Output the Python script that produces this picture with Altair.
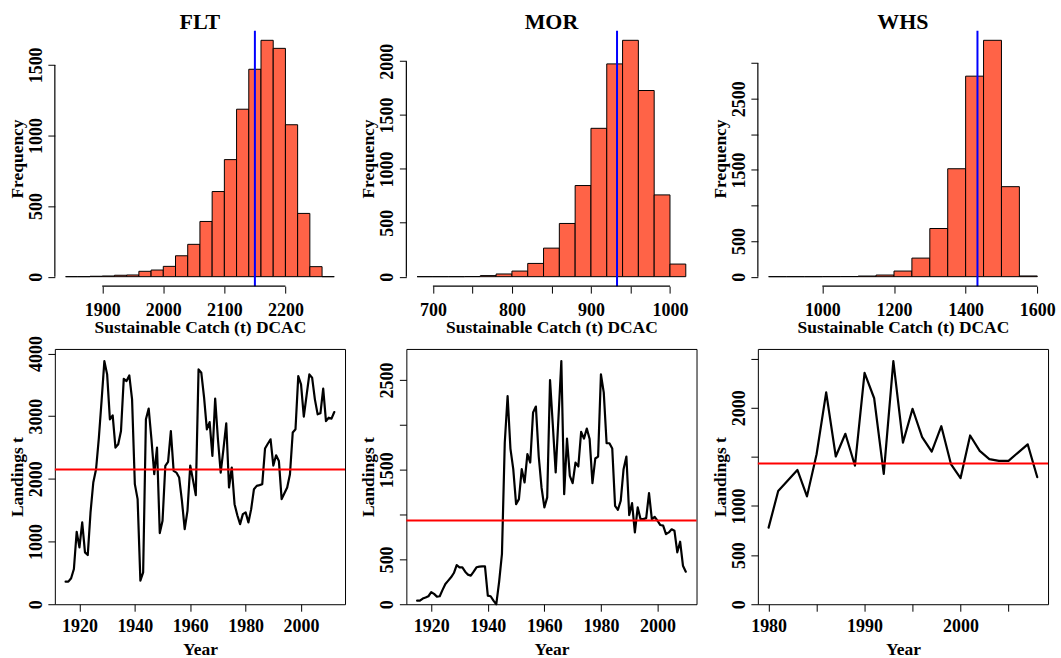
import altair as alt
import pandas as pd

FONT = "Liberation Serif"
W, H = 291, 256

# ---------------- histogram data (bin starts and counts) ----------------
flt_bin_start = list(range(1840, 2280, 20))
flt_bin_step = 20
flt_counts = [0, 0, 3, 5, 10, 12, 38, 47, 73, 148, 229, 391, 603, 829, 1186,
              1469, 1674, 1617, 1076, 448, 71, 0]

mor_bin_start = list(range(680, 1020, 20))
mor_bin_step = 20
mor_counts = [0, 0, 0, 1, 10, 25, 52, 123, 265, 494, 846, 1377, 1975, 2194,
              1728, 759, 117]

whs_bin_start = list(range(850, 1600, 50))
whs_bin_step = 50
whs_counts = [0, 0, 0, 1, 2, 9, 23, 79, 261, 677, 1517, 2818, 3322, 1265, 10]

# DCAC sustainable catch (median) per stock
dcac_flt = 2150
dcac_mor = 933
dcac_whs = 1433

# ---------------- landings series ----------------
flt_years = list(range(1915, 2013))
flt_landings = [360, 360, 414, 562, 1156, 907, 1305, 827, 784, 1464,
                1942, 2153, 2650, 3250, 3878, 3666, 2949, 3013, 2499, 2551,
                2763, 3597, 3560, 3650, 3268, 1915, 1676, 376, 509, 2949,
                3120, 2631, 2074, 2499, 1135, 1331, 2206, 2270, 2763, 2127,
                2100, 2021, 1650, 1198, 1490, 2212, 1980, 1740, 3745, 3692,
                3295, 2790, 2906, 2365, 3279, 2631, 2100, 2480, 2886, 1862,
                2181, 1596, 1420, 1278, 1437, 1465, 1305, 1517, 1835, 1888,
                1900, 1915, 2483, 2560, 2631, 2212, 2376, 2286, 1676, 1770,
                1862, 2074, 2738, 2790, 3639, 3507, 2992, 3330, 3666, 3613,
                3268, 3029, 3045, 3438, 2922, 2975, 2960, 3066]

mor_years = list(range(1915, 2011))
mor_landings = [40, 40, 63, 75, 89, 134, 115, 85, 89, 160,
                226, 263, 300, 348, 437, 412, 412, 363, 330, 318,
                363, 412, 420, 423, 423, 96, 89, 40, 0, 250,
                560, 1803, 2322, 1736, 1506, 1116, 1172, 1506, 1358, 1673,
                1580, 2137, 2204, 1650, 1300, 1080, 1191, 2500, 1990, 1469,
                2090, 2711, 1228, 1847, 1431, 1350, 1580, 1536, 1921, 1847,
                1959, 1843, 1350, 1625, 1647, 2563, 2360, 1795, 1795, 1736,
                1097, 1053, 1154, 1506, 1647, 994, 1127, 801, 1080, 949,
                949, 960, 1239, 949, 975, 931, 883, 876, 782, 801,
                835, 819, 579, 697, 430, 363]

whs_years = list(range(1980, 2009))
whs_landings = [780, 1152, 1259, 1367, 1098, 1527, 2157, 1504, 1735, 1410,
                2355, 2097, 1327, 2475, 1645, 1990, 1701, 1554, 1812, 1427,
                1283, 1718, 1561, 1477, 1460, 1460, 1544, 1628, 1293]

# ---------------- axis ticks ----------------
flt_hx = [1900, 2000, 2100, 2200]
flt_hy = [0, 500, 1000, 1500]
mor_hx = [700, 750, 800, 850, 900, 950, 1000]
mor_hx_lab = [700, 800, 900, 1000]
mor_hy = [0, 500, 1000, 1500, 2000]
whs_hx = [1000, 1200, 1400, 1600]
whs_hy = [0, 500, 1000, 1500, 2000, 2500, 3000]
whs_hy_lab = [0, 500, 1500, 2500]

flt_lx = [1920, 1940, 1960, 1980, 2000]
flt_ly = [0, 1000, 2000, 3000, 4000]
mor_lx = [1920, 1940, 1960, 1980, 2000]
mor_ly = [0, 500, 1000, 1500, 2000, 2500]
mor_ly_lab = [0, 500, 1500, 2500]
whs_lx = [1980, 1985, 1990, 1995, 2000, 2005]
whs_lx_lab = [1980, 1990, 2000]
whs_ly = [0, 500, 1000, 1500, 2000, 2500]
whs_ly_lab = [0, 500, 1000, 2000]


def lab(shown):
    return ("indexof([" + ",".join(str(v) for v in shown) +
            "], datum.value) >= 0 ? datum.label : ''")


def yaxis(values, shown, title):
    return alt.Axis(values=values, format="d", labelExpr=lab(shown), title=title,
                    labelAngle=270, labelAlign="center", labelBaseline="alphabetic",
                    labelPadding=6.5, titlePadding=1, labelFlush=False,
                    labelOverlap=False, domain=False, grid=False)


def hist_panel(name, starts, step, counts, dval, xticks, xshown, yticks, yshown):
    ends = [s + step for s in starts]
    df = pd.DataFrame({"start": starts, "end": ends, "count": counts,
                       "base": [0] * len(starts)})
    lo, hi = starts[0], ends[-1]
    xdom = [lo - 0.04 * (hi - lo), hi + 0.04 * (hi - lo)]
    m = max(counts)
    ydom = [-0.04 * m, 1.04 * m]
    xs = alt.Scale(domain=xdom, nice=False, zero=False)
    ys = alt.Scale(domain=ydom, nice=False, zero=False)
    xax = alt.Axis(values=xticks, format="d", labelExpr=lab(xshown),
                   title="Sustainable Catch (t) DCAC", labelPadding=8,
                   titlePadding=0, labelFlush=False, labelOverlap=False,
                   domain=False, grid=False)
    yax = yaxis(yticks, yshown, "Frequency")
    bars = alt.Chart(df).mark_rect(fill="#FF6347", stroke="black", strokeWidth=1).encode(
        x=alt.X("start:Q", scale=xs, axis=xax), x2="end:Q",
        y=alt.Y("count:Q", scale=ys, axis=yax),
        y2="base:Q")
    vline = alt.Chart(pd.DataFrame({"v": [dval]})).mark_rule(
        color="#0000FF", strokeWidth=2).encode(x=alt.X("v:Q", scale=xs, axis=xax))
    xline = alt.Chart(pd.DataFrame({"a": [xticks[0]], "b": [xticks[-1]],
                                    "yb": [ydom[0]]})).mark_rule(
        color="black", strokeWidth=1.2).encode(
        x=alt.X("a:Q", scale=xs, axis=xax), x2="b:Q",
        y=alt.Y("yb:Q", scale=ys, axis=yax))
    yline = alt.Chart(pd.DataFrame({"xl": [xdom[0]], "c": [yticks[0]],
                                    "d": [yticks[-1]]})).mark_rule(
        color="black", strokeWidth=1.2).encode(
        x=alt.X("xl:Q", scale=xs, axis=xax),
        y=alt.Y("c:Q", scale=ys, axis=yax), y2="d:Q")
    return alt.layer(bars, vline, xline, yline).properties(
        width=W, height=H,
        title=alt.TitleParams(name, font=FONT, fontSize=22, fontWeight="bold",
                              offset=-21, baseline="alphabetic", anchor="middle"),
        view=alt.ViewBackground(stroke="transparent"))


def line_panel(years, vals, dval, xticks, xshown, yticks, yshown):
    df = pd.DataFrame({"year": years, "landings": vals})
    lo, hi = years[0], years[-1]
    xdom = [lo - 0.04 * (hi - lo), hi + 0.04 * (hi - lo)]
    ydom = [0, 1.05 * max(vals)]
    xs = alt.Scale(domain=xdom, nice=False, zero=False)
    ys = alt.Scale(domain=ydom, nice=False, zero=False)
    xax = alt.Axis(values=xticks, format="d", labelExpr=lab(xshown), title="Year",
                   labelPadding=6, titlePadding=5, labelFlush=False,
                   labelOverlap=False, domain=False, grid=False)
    yax = yaxis(yticks, yshown, "Landings t")
    line = alt.Chart(df).mark_line(color="black", strokeWidth=2.2,
                                   strokeJoin="round", strokeCap="round").encode(
        x=alt.X("year:Q", scale=xs, axis=xax),
        y=alt.Y("landings:Q", scale=ys, axis=yax))
    red = alt.Chart(pd.DataFrame({"v": [dval]})).mark_rule(
        color="#FF0000", strokeWidth=2).encode(y=alt.Y("v:Q", scale=ys, axis=yax))
    return alt.layer(line, red).properties(
        width=W, height=H,
        view=alt.ViewBackground(stroke="black", strokeWidth=1))


h1 = hist_panel("FLT", flt_bin_start, flt_bin_step, flt_counts, dcac_flt,
                flt_hx, flt_hx, flt_hy, flt_hy)
h2 = hist_panel("MOR", mor_bin_start, mor_bin_step, mor_counts, dcac_mor,
                mor_hx, mor_hx_lab, mor_hy, mor_hy)
h3 = hist_panel("WHS", whs_bin_start, whs_bin_step, whs_counts, dcac_whs,
                whs_hx, whs_hx, whs_hy, whs_hy_lab)
l1 = line_panel(flt_years, flt_landings, dcac_flt, flt_lx, flt_lx, flt_ly, flt_ly)
l2 = line_panel(mor_years, mor_landings, dcac_mor, mor_lx, mor_lx, mor_ly, mor_ly_lab)
l3 = line_panel(whs_years, whs_landings, dcac_whs, whs_lx, whs_lx_lab, whs_ly, whs_ly_lab)

chart = alt.concat(
    h1, h2, h3, l1, l2, l3, columns=3,
    spacing={"row": 63, "column": 61.5}, bounds="flush"
).properties(
    padding={"left": 7, "top": 9, "right": 5, "bottom": 5},
    background="white"
).configure_axis(
    labelFont=FONT, labelFontSize=18, labelFontWeight="bold", labelColor="black",
    titleFont=FONT, titleFontSize=17.5, titleFontWeight="bold", titleColor="black",
    tickColor="black", tickSize=7, tickWidth=1
)

chart.save("out.html", embed_options={"renderer": "svg", "actions": False})
